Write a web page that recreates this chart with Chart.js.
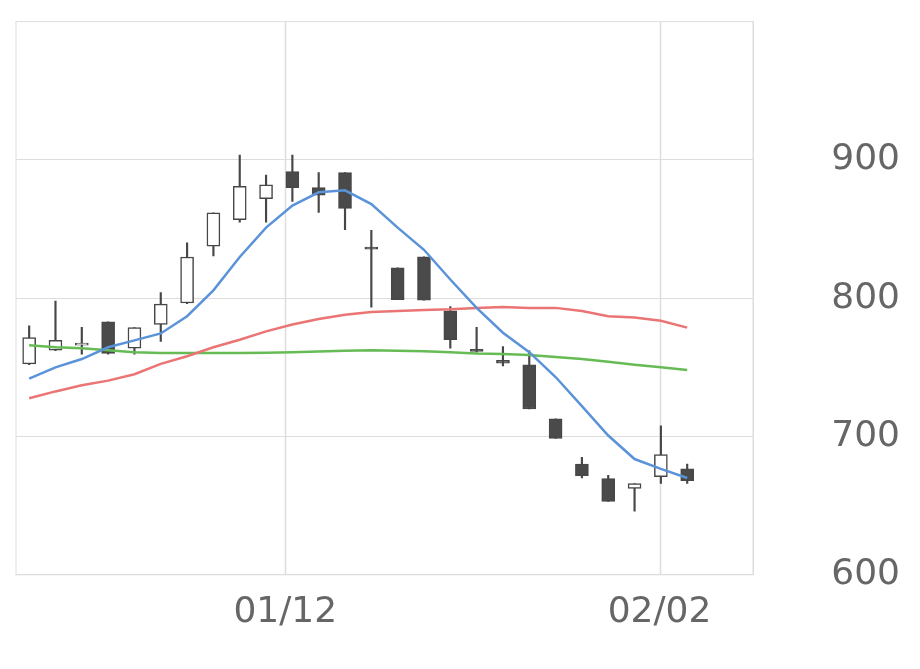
<!DOCTYPE html>
<html><head><meta charset="utf-8">
<script src="https://cdn.jsdelivr.net/npm/chart.js@4"></script>
<style>html,body{margin:0;padding:0;background:#fff}#w{width:920px;height:669px}</style>
</head><body><div id="w"><canvas id="c"></canvas></div>
<script>
const openV  = [752.5,762.4,766,783,763.8,781,796.5,837.6,856.7,872,891.5,880,890.8,837,822,830,790.8,763,755,751.8,712.8,680,669.5,662.4,671,676.6];
const closeV = [771.6,769.5,767,760,778.7,795.7,829.8,861.7,880.9,882,880,874.5,865,835.5,799,798.6,770,761.5,753,719.9,698.6,671.6,653,666,687,668];
const highV  = [780,798,779,783,778.7,804,840,861.7,903.5,889,903.5,890.8,890.8,849,822,830,794,779,765,762,712.8,685,672,666,707.8,680];
const lowV   = [752,762,759.5,759.6,759.5,768.8,796,830.5,855,855,870,862,849.6,793.6,799,798.6,763.8,761,751,719.9,698.6,670,653,646,666,666];
const maBlue = [741.8,750,756,764.5,769.5,774.5,787,805.7,829.8,851,867,876.6,878,868,851,835,813.5,793,775,761,743,722,700.7,683.7,676.6,670];
const maRed  = [727.7,732.6,737,740.4,745,752.5,758,764.5,770,776,781,785,788,790,790.8,791.5,792,793,793.6,793,793,790.8,787,786,783.7,778.7];
const maGreen= [766,764.5,763.8,762.4,761,760.3,760.3,760.3,760.3,760.5,761,761.5,762,762.4,762,761.7,761,760,759.6,759,757.4,756,754,751.8,750,748];
const tickPos = [9.73, 23.95];
const tickLabels = ['01/12', '02/02'];
const yTicks = [600,700,800,900];

const idx = openV.map((_, i) => i);
const bodies = idx.map(i => ({x:i, y:[openV[i], Math.abs(closeV[i]-openV[i])<1.5 ? openV[i]+(closeV[i]>=openV[i]?1.5:-1.5) : closeV[i]]}));
const wicks = idx.map(i => ({x:i, y:[lowV[i], highV[i]]}));
const up = idx.map(i => closeV[i] >= openV[i]);
const line = (d,c) => ({type:'line', data:idx.map(i=>({x:i,y:d[i]})), borderColor:c, borderWidth:2.5, pointRadius:0, tension:0, order:0, fill:false});

new Chart(document.getElementById('c'), {
  type:'bar',
  data:{datasets:[
    line(maBlue,'#5b93d9'), line(maRed,'#eb7474'), line(maGreen,'#66bb55'),
    {data:bodies, grouped:false, barThickness:13, order:1,
     backgroundColor: up.map(u=>u?'#ffffff':'#4a4a4a'), borderColor:'#474747', borderWidth:1.5, borderSkipped:false},
    {data:wicks, grouped:false, barThickness:1.5, order:2, backgroundColor:'#474747', borderWidth:0}
  ]},
  options:{
    responsive:true, maintainAspectRatio:false, animation:false,
    layout:{padding:{left:16,top:11,right:20,bottom:27}},
    plugins:{legend:{display:false}, tooltip:{enabled:false}},
    scales:{
      x:{type:'linear', min:-0.5, max:27.5, offset:false,
        afterBuildTicks:a=>{a.ticks=tickPos.map(v=>({value:v}));},
        ticks:{callback:(v,i)=>tickLabels[i], color:'#666', font:{family:'DejaVu Sans',size:36}, padding:8, maxRotation:0, autoSkip:false},
        grid:{display:false}, border:{color:'#dddddd'}},
      y:{position:'right', min:600, max:1000,
        afterBuildTicks:a=>{a.ticks=yTicks.map(v=>({value:v}));},
        afterFit:a=>{a.width=147;},
        ticks:{color:'#666', font:{family:'DejaVu Sans',size:36}, crossAlign:'far', padding:0},
        grid:{color:'#dddddd', drawTicks:false}, border:{color:'#dddddd'}}
    }
  },
  plugins:[{id:'frame',
    beforeDatasetsDraw(c){const a=c.chartArea,g=c.ctx,x=c.scales.x;g.save();g.strokeStyle='#dddddd';g.lineWidth=1.5;
      tickPos.forEach(v=>{const p=Math.round(x.getPixelForValue(v))+0.5;g.beginPath();g.moveTo(p,a.top);g.lineTo(p,a.bottom);g.stroke();});g.restore();},
    afterDraw(c){const a=c.chartArea,g=c.ctx;g.save();g.strokeStyle='#dddddd';g.lineWidth=1;g.strokeRect(a.left,a.top,a.right-a.left,a.bottom-a.top);g.restore();}}]
});
</script></body></html>
